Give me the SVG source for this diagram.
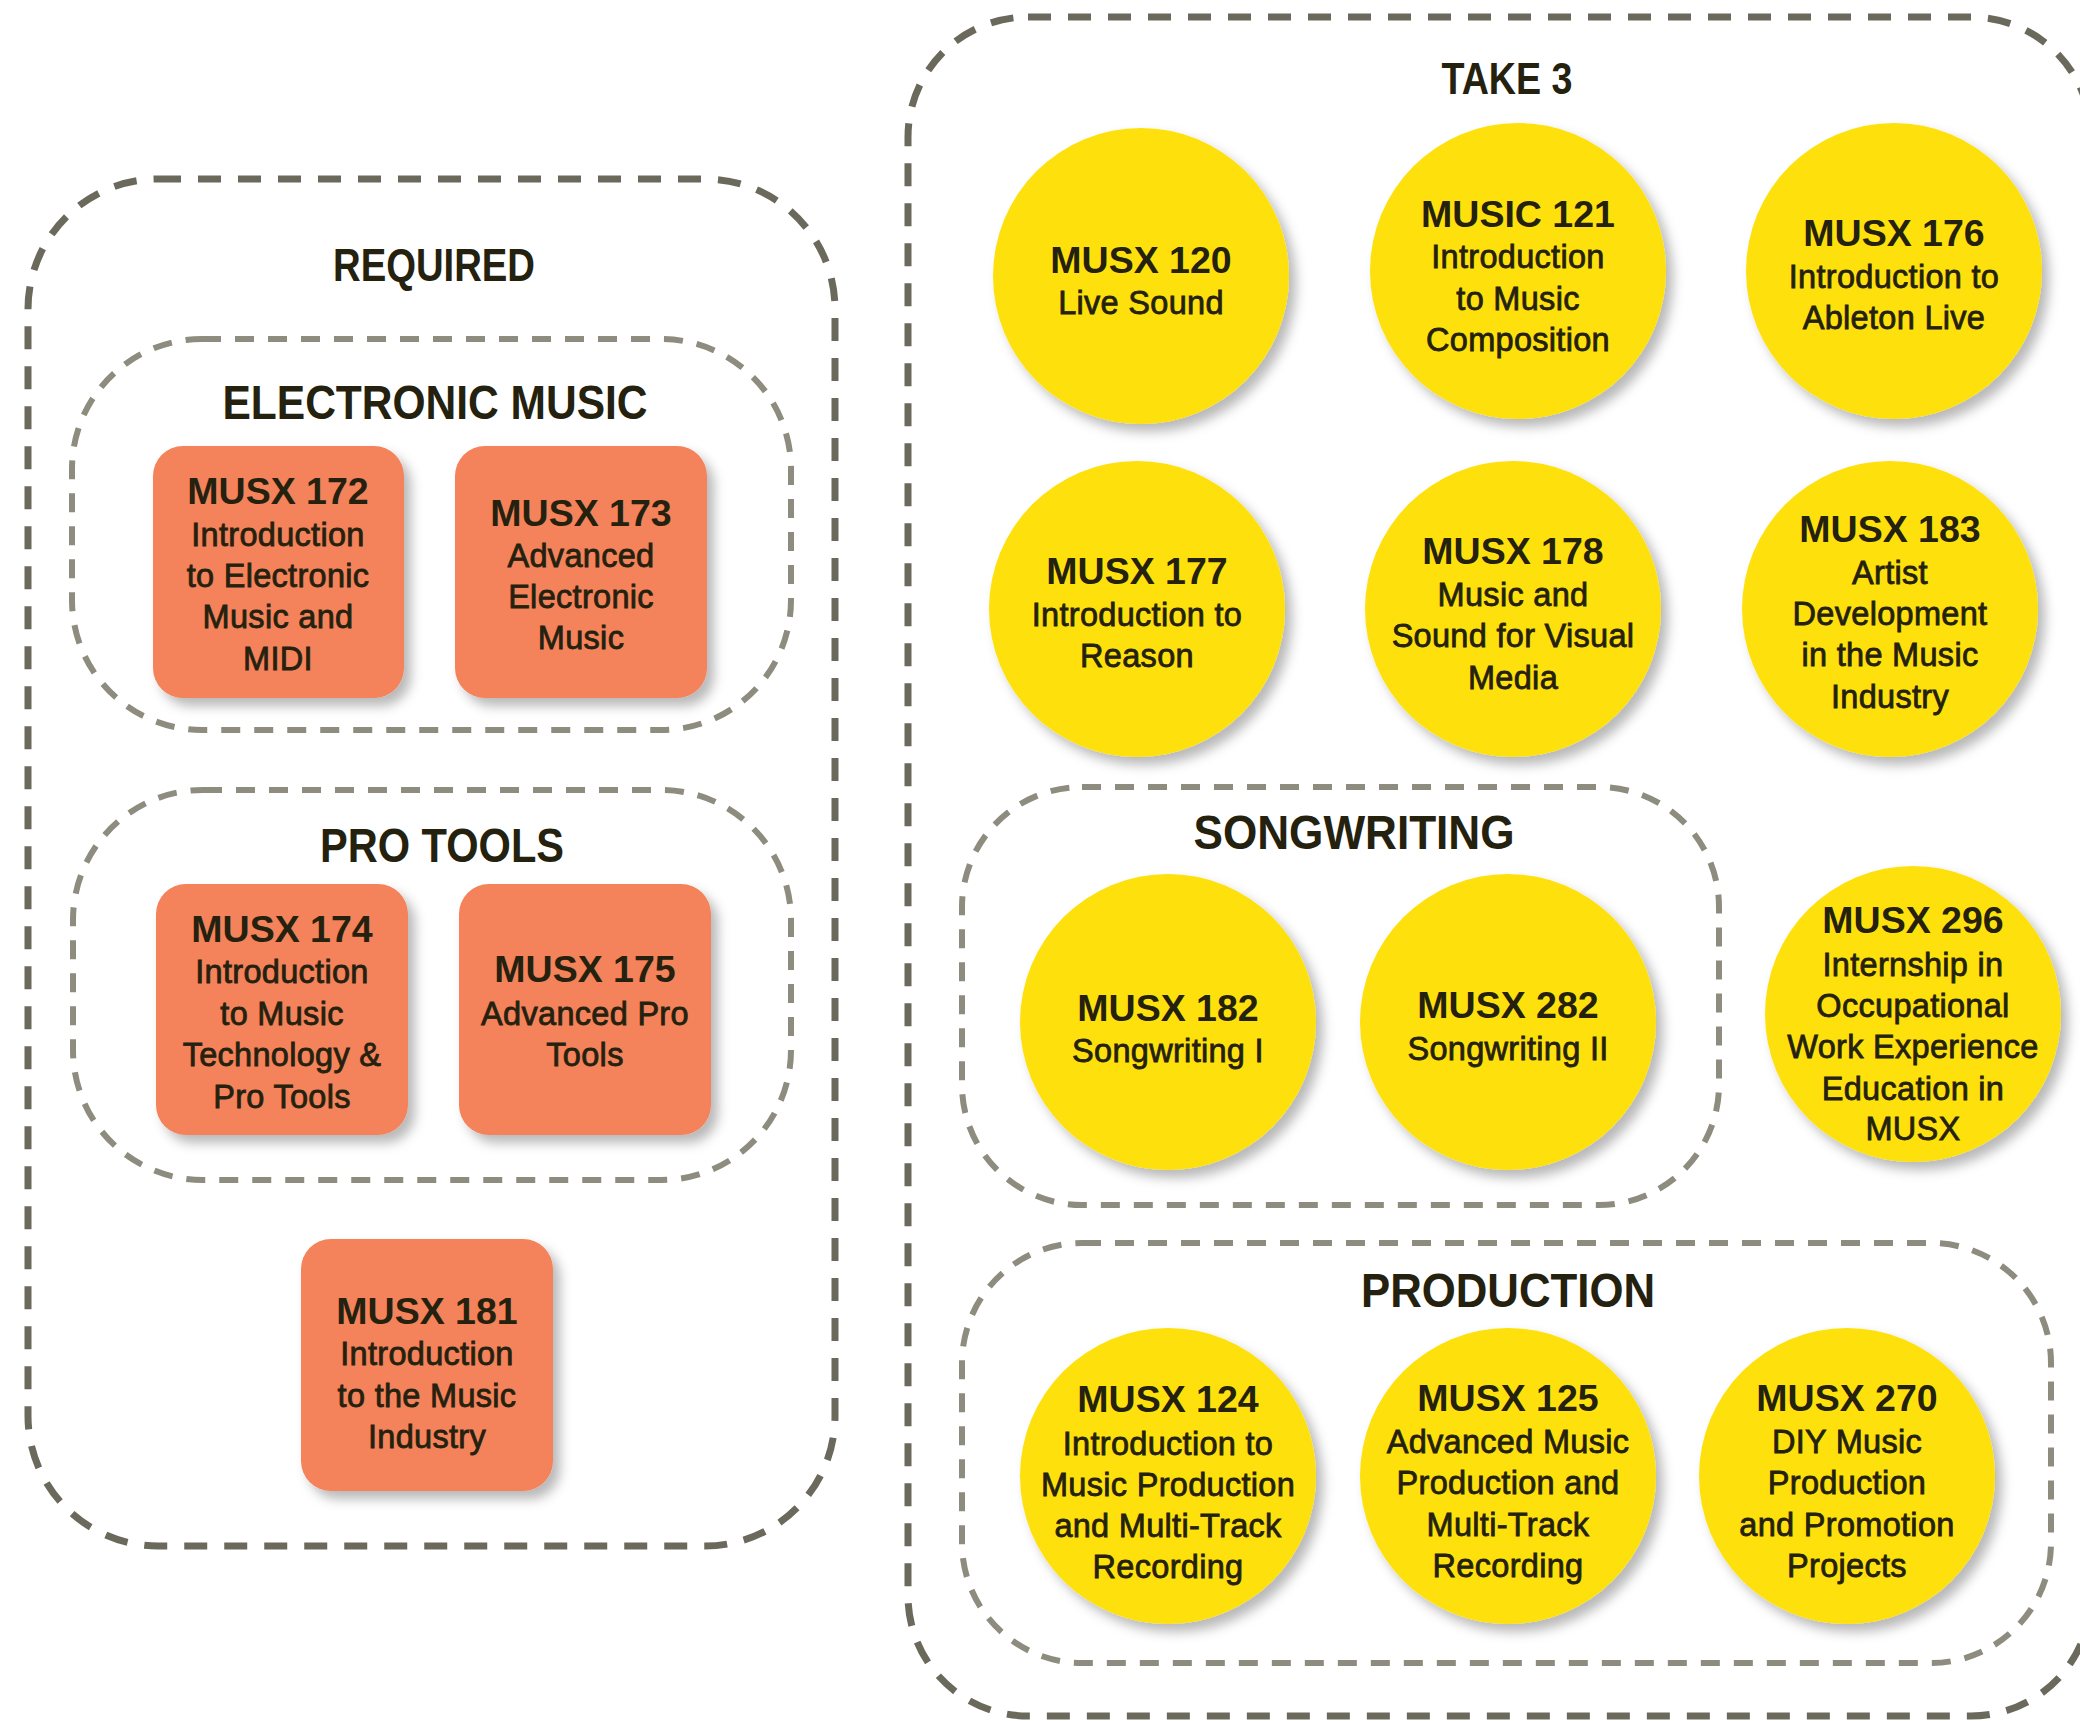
<svg xmlns="http://www.w3.org/2000/svg" width="2080" height="1721" viewBox="0 0 2080 1721">
<defs>
<filter id="sh" x="-20%" y="-20%" width="150%" height="150%">
<feDropShadow dx="7" dy="8" stdDeviation="6" flood-color="#000" flood-opacity="0.28"/>
</filter>
<style>
.outer{fill:none;stroke:#6b695c;stroke-width:7;stroke-dasharray:23 17}
.inner{fill:none;stroke:#8e8c7f;stroke-width:6;stroke-dasharray:19 14}
.box{fill:#f4825a;filter:url(#sh)}
.circ{fill:#fee011;filter:url(#sh)}
text{font-family:"Liberation Sans",Arial,sans-serif;fill:#24210f;text-anchor:middle}
.sec{font-weight:bold;font-size:48px}
.t{font-weight:bold;font-size:37.5px}
.b{font-size:32.5px;stroke:#24210f;stroke-width:0.8;letter-spacing:0.3px}
</style>
</defs>
<rect width="2080" height="1721" fill="#fff"/>

<g id="required">
<rect class="outer" x="28" y="179" width="807" height="1367" rx="130"/>
<text class="sec" x="434" y="281" style="font-size:46px" textLength="202" lengthAdjust="spacingAndGlyphs">REQUIRED</text>
</g>

<g id="electronic-music">
<rect class="inner" x="72" y="339" width="719" height="391" rx="130"/>
<text class="sec" x="435" y="419" textLength="425" lengthAdjust="spacingAndGlyphs">ELECTRONIC MUSIC</text>
</g>

<g id="musx172">
<rect class="box" x="153" y="446" width="251" height="252" rx="30"/>
<text class="t" x="278" y="504">MUSX 172</text>
<text class="b" x="278" y="546">Introduction</text>
<text class="b" x="278" y="587">to Electronic</text>
<text class="b" x="278" y="628">Music and</text>
<text class="b" x="278" y="670">MIDI</text>
</g>

<g id="musx173">
<rect class="box" x="455" y="446" width="252" height="252" rx="30"/>
<text class="t" x="581" y="526">MUSX 173</text>
<text class="b" x="581" y="567">Advanced</text>
<text class="b" x="581" y="608">Electronic</text>
<text class="b" x="581" y="649">Music</text>
</g>

<g id="pro-tools">
<rect class="inner" x="73" y="790" width="718" height="390" rx="130"/>
<text class="sec" x="442" y="862" textLength="244" lengthAdjust="spacingAndGlyphs">PRO TOOLS</text>
</g>

<g id="musx174">
<rect class="box" x="156" y="884" width="252" height="251" rx="30"/>
<text class="t" x="282" y="942">MUSX 174</text>
<text class="b" x="282" y="983">Introduction</text>
<text class="b" x="282" y="1025">to Music</text>
<text class="b" x="282" y="1066">Technology &amp;</text>
<text class="b" x="282" y="1108">Pro Tools</text>
</g>

<g id="musx175">
<rect class="box" x="459" y="884" width="252" height="251" rx="30"/>
<text class="t" x="585" y="982">MUSX 175</text>
<text class="b" x="585" y="1025">Advanced Pro</text>
<text class="b" x="585" y="1066">Tools</text>
</g>

<g id="musx181">
<rect class="box" x="301" y="1239" width="252" height="252" rx="30"/>
<text class="t" x="427" y="1324">MUSX 181</text>
<text class="b" x="427" y="1365">Introduction</text>
<text class="b" x="427" y="1407">to the Music</text>
<text class="b" x="427" y="1448">Industry</text>
</g>

<g id="take3">
<rect class="outer" x="908" y="17" width="1183" height="1699" rx="120"/>
<text class="sec" x="1507" y="94" style="font-size:44px" textLength="131" lengthAdjust="spacingAndGlyphs">TAKE 3</text>
</g>

<g id="musx120">
<circle class="circ" cx="1141" cy="276" r="148"/>
<text class="t" x="1141" y="273">MUSX 120</text>
<text class="b" x="1141" y="314">Live Sound</text>
</g>

<g id="music121">
<circle class="circ" cx="1518" cy="271" r="148"/>
<text class="t" x="1518" y="227">MUSIC 121</text>
<text class="b" x="1518" y="268">Introduction</text>
<text class="b" x="1518" y="310">to Music</text>
<text class="b" x="1518" y="351">Composition</text>
</g>

<g id="musx176">
<circle class="circ" cx="1894" cy="271" r="148"/>
<text class="t" x="1894" y="246">MUSX 176</text>
<text class="b" x="1894" y="288">Introduction to</text>
<text class="b" x="1894" y="329">Ableton Live</text>
</g>

<g id="musx177">
<circle class="circ" cx="1137" cy="609" r="148"/>
<text class="t" x="1137" y="584">MUSX 177</text>
<text class="b" x="1137" y="626">Introduction to</text>
<text class="b" x="1137" y="667">Reason</text>
</g>

<g id="musx178">
<circle class="circ" cx="1513" cy="609" r="148"/>
<text class="t" x="1513" y="564">MUSX 178</text>
<text class="b" x="1513" y="606">Music and</text>
<text class="b" x="1513" y="647">Sound for Visual</text>
<text class="b" x="1513" y="689">Media</text>
</g>

<g id="musx183">
<circle class="circ" cx="1890" cy="609" r="148"/>
<text class="t" x="1890" y="542">MUSX 183</text>
<text class="b" x="1890" y="584">Artist</text>
<text class="b" x="1890" y="625">Development</text>
<text class="b" x="1890" y="666">in the Music</text>
<text class="b" x="1890" y="708">Industry</text>
</g>

<g id="songwriting">
<rect class="inner" x="962" y="787" width="757" height="418" rx="120"/>
<text class="sec" x="1354" y="849" textLength="321" lengthAdjust="spacingAndGlyphs">SONGWRITING</text>
</g>

<g id="musx182">
<circle class="circ" cx="1168" cy="1022" r="148"/>
<text class="t" x="1168" y="1021">MUSX 182</text>
<text class="b" x="1168" y="1062">Songwriting I</text>
</g>

<g id="musx282">
<circle class="circ" cx="1508" cy="1022" r="148"/>
<text class="t" x="1508" y="1018">MUSX 282</text>
<text class="b" x="1508" y="1060">Songwriting II</text>
</g>

<g id="musx296">
<circle class="circ" cx="1913" cy="1014" r="148"/>
<text class="t" x="1913" y="933">MUSX 296</text>
<text class="b" x="1913" y="976">Internship in</text>
<text class="b" x="1913" y="1017">Occupational</text>
<text class="b" x="1913" y="1058">Work Experience</text>
<text class="b" x="1913" y="1100">Education in</text>
<text class="b" x="1913" y="1140">MUSX</text>
</g>

<g id="production">
<rect class="inner" x="962" y="1243" width="1089" height="420" rx="120"/>
<text class="sec" x="1508" y="1307" textLength="294" lengthAdjust="spacingAndGlyphs">PRODUCTION</text>
</g>

<g id="musx124">
<circle class="circ" cx="1168" cy="1476" r="148"/>
<text class="t" x="1168" y="1412">MUSX 124</text>
<text class="b" x="1168" y="1455">Introduction to</text>
<text class="b" x="1168" y="1496">Music Production</text>
<text class="b" x="1168" y="1537">and Multi-Track</text>
<text class="b" x="1168" y="1578">Recording</text>
</g>

<g id="musx125">
<circle class="circ" cx="1508" cy="1476" r="148"/>
<text class="t" x="1508" y="1411">MUSX 125</text>
<text class="b" x="1508" y="1453">Advanced Music</text>
<text class="b" x="1508" y="1494">Production and</text>
<text class="b" x="1508" y="1536">Multi-Track</text>
<text class="b" x="1508" y="1577">Recording</text>
</g>

<g id="musx270">
<circle class="circ" cx="1847" cy="1476" r="148"/>
<text class="t" x="1847" y="1411">MUSX 270</text>
<text class="b" x="1847" y="1453">DIY Music</text>
<text class="b" x="1847" y="1494">Production</text>
<text class="b" x="1847" y="1536">and Promotion</text>
<text class="b" x="1847" y="1577">Projects</text>
</g>

<g id="connectors"></g>
</svg>
